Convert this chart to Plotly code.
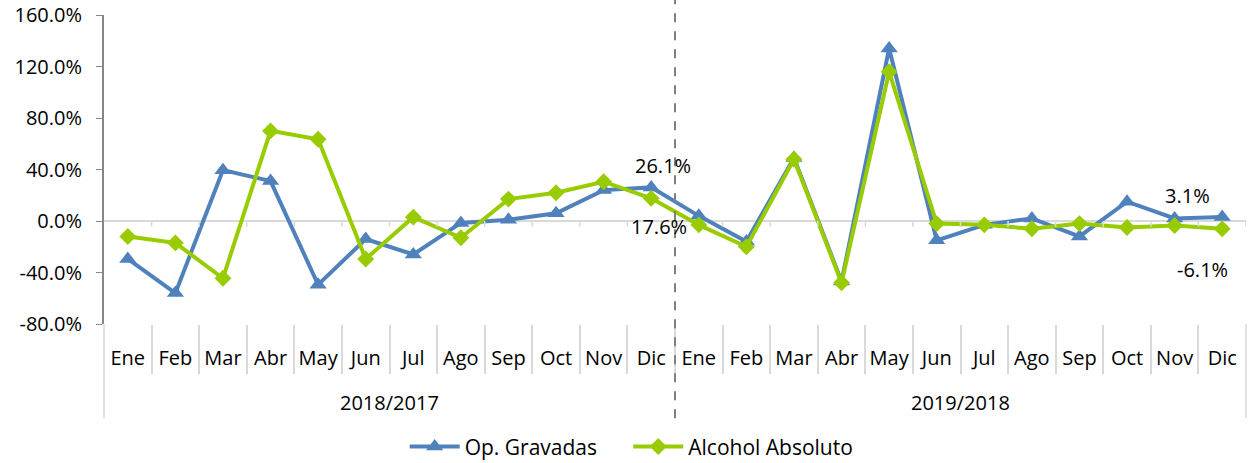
import plotly.graph_objects as go

# Monthly year-over-year change (%) for two consecutive periods
periods = ["2018/2017", "2019/2018"]
months = ["Ene", "Feb", "Mar", "Abr", "May", "Jun", "Jul", "Ago", "Sep", "Oct", "Nov", "Dic"]

op_gravadas = [-29.5, -56.0, 39.5, 31.0, -49.5, -14.0, -26.0, -1.5, 1.0, 6.0, 24.0, 26.1,
               4.0, -16.0, 49.0, -47.0, 134.0, -15.0, -3.0, 2.0, -12.0, 15.0, 2.0, 3.1]
alcohol_absoluto = [-12.0, -17.0, -44.5, 70.0, 63.5, -29.5, 3.0, -13.0, 17.0, 22.0, 30.5, 17.6,
                    -3.0, -20.0, 48.0, -48.0, 116.0, -2.0, -3.0, -6.0, -2.0, -5.0, -3.5, -6.1]

y_ticks = [-80, -40, 0, 40, 80, 120, 160]
y_ticktext = [f"{v:.1f}%" for v in y_ticks]

m = len(months)
n = m * len(periods)
x_idx = list(range(n))
x_labels = months * len(periods)
boundaries = [i - 0.5 for i in range(1, n)]

BLUE = "#4F81BD"
GREEN = "#99CC00"
SEP = "#D9D9D9"
FONT = "Open Sans"
FS = 20

fig = go.Figure()
fig.add_trace(go.Scatter(
    x=x_idx, y=op_gravadas, name="Op. Gravadas",
    mode="lines+markers",
    line=dict(color=BLUE, width=4),
    marker=dict(symbol="triangle-up", size=15, color=BLUE),
    cliponaxis=False, legend="legend",
))
fig.add_trace(go.Scatter(
    x=x_idx, y=alcohol_absoluto, name="Alcohol Absoluto",
    mode="lines+markers",
    line=dict(color=GREEN, width=4),
    marker=dict(symbol="diamond", size=13, color=GREEN),
    cliponaxis=False, legend="legend2",
))

# Value labels on the last month of each period: (series, index, pixel offsets)
label_specs = [
    (op_gravadas, m - 1, 12, 22),
    (alcohol_absoluto, m - 1, 8, -28),
    (op_gravadas, n - 1, -35, 22),
    (alcohol_absoluto, n - 1, -20, -41),
]
for values, i, dx, dy in label_specs:
    fig.add_annotation(x=i, y=values[i], xref="x", yref="y", text=f"{values[i]:.1f}%",
                       showarrow=False, xshift=dx, yshift=dy,
                       font=dict(family=FONT, size=FS, color="#000000"))

# Period labels under the month labels
for k, p in enumerate(periods):
    fig.add_annotation(x=k * m + (m - 1) / 2, y=-0.255, xref="x", yref="paper", text=p,
                       showarrow=False, yanchor="middle",
                       font=dict(family=FONT, size=FS, color="#000000"))

# Short category ticks hanging from the zero line
for b in boundaries + [n - 0.5]:
    fig.add_shape(type="line", xref="x", yref="y", x0=b, x1=b, y0=0, y1=-4.5,
                  line=dict(color=SEP, width=1.5))

# Period dividers: solid at the outer edges, dashed between the periods
for k in range(len(periods) + 1):
    xf = k * m / n
    if 0 < k < len(periods):
        fig.add_shape(type="line", xref="paper", yref="paper",
                      x0=xf, x1=xf, y0=-0.305, y1=1.05,
                      line=dict(color="#7F7F7F", width=2, dash="dash"))
    else:
        fig.add_shape(type="line", xref="paper", yref="paper",
                      x0=xf, x1=xf, y0=-0.305, y1=0,
                      line=dict(color=SEP, width=1.5))

legend_style = dict(orientation="h", xref="container", yref="container",
                    xanchor="left", y=0.035, yanchor="middle",
                    font=dict(family=FONT, size=21), itemwidth=50)

fig.update_layout(
    width=1249, height=463,
    margin=dict(l=104, r=3, t=15, b=139),
    paper_bgcolor="white", plot_bgcolor="white",
    font=dict(family=FONT, size=FS, color="#000000"),
    showlegend=True,
    legend=dict(x=0.324, **legend_style),
    legend2=dict(x=0.503, **legend_style),
)
fig.update_xaxes(
    range=[-0.5, n - 0.5], automargin=False, tickangle=0,
    tickmode="array", tickvals=x_idx, ticktext=x_labels,
    showgrid=False, showline=False, zeroline=False,
    ticks="", ticklabelstandoff=20,
    minor=dict(tickmode="array", tickvals=boundaries,
               ticks="outside", ticklen=49, tickcolor=SEP, tickwidth=1.5, showgrid=False),
    tickfont=dict(family=FONT, size=FS),
)
fig.update_yaxes(
    range=[-80, 160], tickvals=y_ticks, ticktext=y_ticktext, automargin=False,
    showgrid=False, zeroline=True, zerolinecolor=SEP, zerolinewidth=2,
    showline=True, linecolor="#868686", linewidth=2,
    ticks="outside", ticklen=6, tickcolor="#868686",
    ticklabelstandoff=10,
    tickfont=dict(family=FONT, size=FS),
)

fig.write_html("out.html")
